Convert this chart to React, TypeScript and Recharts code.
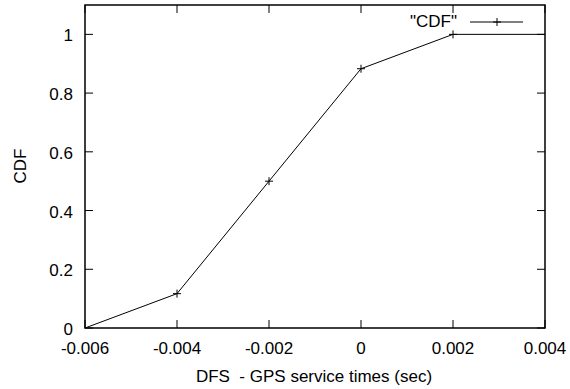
import React from "react";
import { LineChart, Line, XAxis, YAxis, ReferenceArea, Customized } from "recharts";

const xValues = [-0.006, -0.004, -0.002, 0, 0.002, 0.004];
const cdfValues = [0, 0.117, 0.5, 0.883, 1, 1];
const xTicks = [-0.006, -0.004, -0.002, 0, 0.002, 0.004];
const xTickLabels = ["-0.006", "-0.004", "-0.002", "0", "0.002", "0.004"];
const yTicks = [0, 0.2, 0.4, 0.6, 0.8, 1];
const yTickLabels = ["0", "0.2", "0.4", "0.6", "0.8", "1"];
const seriesName = '"CDF"';
const xLabel = "DFS  - GPS service times (sec)";
const yLabel = "CDF";

const data = xValues.map((x, i) => ({ x, cdf: cdfValues[i] }));

const W = 570;
const H = 389;
const PLOT_TOP = 5;
const PLOT_LEFT = 85;
const PLOT_RIGHT = 545;
const PLOT_BOTTOM = 328;
const FONT = '"Liberation Sans", Arial, Helvetica, sans-serif';
const FS = 17;
const TICK = 8;

const XTick = (props: any) => {
  const { x, y, payload, index } = props;
  const label = xTickLabels[xTicks.indexOf(payload.value)] ?? String(payload.value);
  return (
    <g>
      <line x1={x} y1={y} x2={x} y2={y - TICK} stroke="#000" strokeWidth={1} />
      <line x1={x} y1={PLOT_TOP} x2={x} y2={PLOT_TOP + TICK} stroke="#000" strokeWidth={1} />
      <text x={x} y={y + 26} textAnchor="middle" fontFamily={FONT} fontSize={FS} fill="#000">
        {label}
      </text>
    </g>
  );
};

const YTick = (props: any) => {
  const { x, y, payload } = props;
  const label = yTickLabels[yTicks.indexOf(payload.value)] ?? String(payload.value);
  return (
    <g>
      <line x1={x} y1={y} x2={x + TICK} y2={y} stroke="#000" strokeWidth={1} />
      <line x1={PLOT_RIGHT} y1={y} x2={PLOT_RIGHT - TICK} y2={y} stroke="#000" strokeWidth={1} />
      <text x={x - 12} y={y + 7} textAnchor="end" fontFamily={FONT} fontSize={FS} fill="#000">
        {label}
      </text>
    </g>
  );
};

const PlusDot = (props: any) => {
  const { cx, cy, index } = props;
  if (index === 0 || index === data.length - 1 || cx == null || cy == null) return <g key={`d${index}`} />;
  const s = 4;
  return (
    <g key={`d${index}`}>
      <line x1={cx - s} y1={cy} x2={cx + s} y2={cy} stroke="#000" strokeWidth={1} />
      <line x1={cx} y1={cy - s} x2={cx} y2={cy + s} stroke="#000" strokeWidth={1} />
    </g>
  );
};

const Overlay = () => (
  <g>
    <text
      x={314}
      y={382}
      textAnchor="middle"
      fontFamily={FONT}
      fontSize={FS}
      fill="#000"
      style={{ whiteSpace: "pre" }}
    >
      {xLabel}
    </text>
    <text
      x={0}
      y={0}
      transform={`translate(26, 166) rotate(-90)`}
      textAnchor="middle"
      fontFamily={FONT}
      fontSize={FS}
      fill="#000"
    >
      {yLabel}
    </text>
    <text x={457} y={27} textAnchor="end" fontFamily={FONT} fontSize={FS} fill="#000">
      {seriesName}
    </text>
    <line x1={470} y1={22} x2={523} y2={22} stroke="#000" strokeWidth={1} />
    <line x1={493} y1={22} x2={501} y2={22} stroke="#000" strokeWidth={1} />
    <line x1={497} y1={18} x2={497} y2={26} stroke="#000" strokeWidth={1} />
  </g>
);

export default function App() {
  return (
    <div style={{ position: "absolute", left: 0, top: 0, width: W, height: H, background: "#fff" }}>
      <LineChart
        width={W}
        height={H}
        data={data}
        margin={{ top: PLOT_TOP, right: W - PLOT_RIGHT, bottom: 0, left: 0 }}
      >
        <XAxis
          dataKey="x"
          type="number"
          domain={[-0.006, 0.004]}
          ticks={xTicks}
          tick={<XTick />}
          tickLine={false}
          tickSize={0}
          tickMargin={0}
          axisLine={false}
          height={H - PLOT_BOTTOM}
          interval={0}
        />
        <YAxis
          type="number"
          domain={[0, 1.1]}
          ticks={yTicks}
          tick={<YTick />}
          tickLine={false}
          tickSize={0}
          tickMargin={0}
          axisLine={false}
          width={PLOT_LEFT}
          interval={0}
        />
        <ReferenceArea
          x1={-0.006}
          x2={0.004}
          y1={0}
          y2={1.1}
          fill="none"
          fillOpacity={0}
          stroke="#000"
          strokeWidth={1.5}
          ifOverflow="visible"
        />
        <Line
          type="linear"
          dataKey="cdf"
          stroke="#000"
          strokeWidth={1}
          dot={(p: any) => <PlusDot {...p} />}
          activeDot={false}
          isAnimationActive={false}
        />
        <Customized component={Overlay} />
      </LineChart>
    </div>
  );
}
